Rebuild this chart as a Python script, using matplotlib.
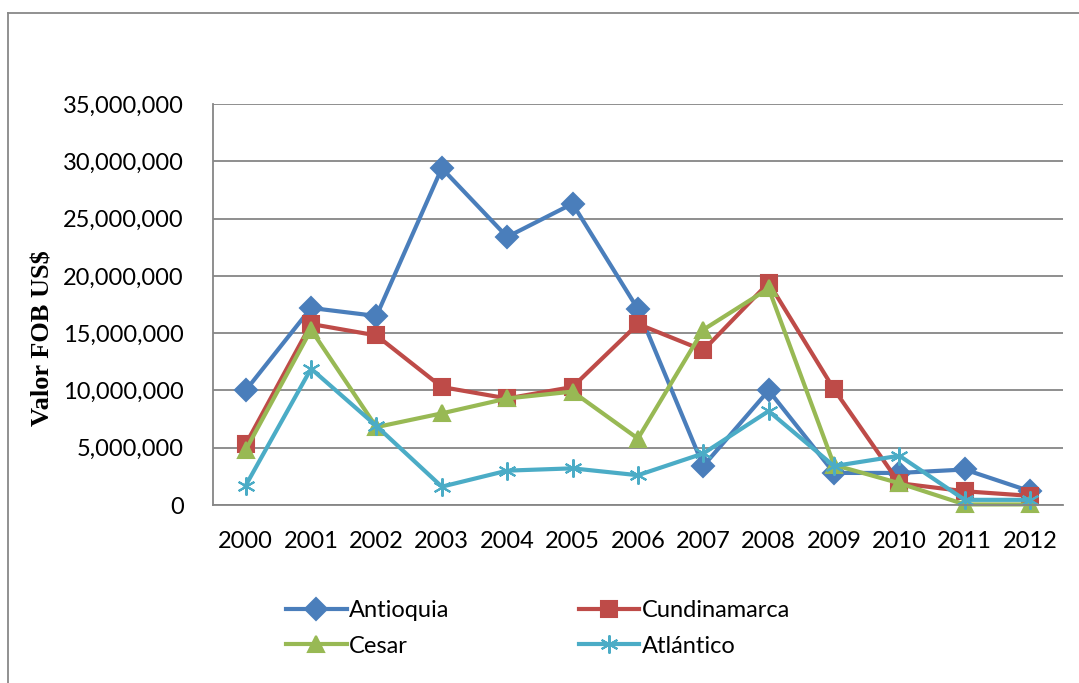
import matplotlib
matplotlib.use('Agg')
import matplotlib.pyplot as plt
from matplotlib.lines import Line2D
from matplotlib.ticker import FuncFormatter

# data (Valor FOB US$)
years = ['2000', '2001', '2002', '2003', '2004', '2005', '2006',
         '2007', '2008', '2009', '2010', '2011', '2012']
antioquia = [10.0e6, 17.2e6, 16.5e6, 29.4e6, 23.4e6, 26.3e6, 17.1e6,
             3.4e6, 10.0e6, 2.8e6, 2.8e6, 3.1e6, 1.2e6]
cundinamarca = [5.3e6, 15.8e6, 14.8e6, 10.3e6, 9.3e6, 10.3e6, 15.8e6,
                13.5e6, 19.4e6, 10.1e6, 1.9e6, 1.2e6, 0.8e6]
cesar = [4.8e6, 15.3e6, 6.8e6, 8.0e6, 9.3e6, 9.9e6, 5.8e6,
         15.3e6, 18.9e6, 3.5e6, 1.9e6, 0.05e6, 0.05e6]
atlantico = [1.7e6, 11.9e6, 6.9e6, 1.6e6, 3.0e6, 3.2e6, 2.6e6,
             4.5e6, 8.2e6, 3.4e6, 4.3e6, 0.45e6, 0.45e6]

series = [
    ('Antioquia', antioquia, '#4A7EBB', 'D', 11),
    ('Cundinamarca', cundinamarca, '#BE4B48', 's', 11),
    ('Cesar', cesar, '#98B954', '^', 12),
    ('Atlántico', atlantico, '#4BACC6', (6, 2, 0), 13),
]

fig = plt.figure(figsize=(10.79, 6.83), dpi=100)
ax = fig.add_axes([0.1974, 0.2606, 0.7876, 0.5871])

x = range(len(years))
handles = []
for name, vals, color, marker, ms in series:
    ln, = ax.plot(x, vals, color=color, linewidth=3, marker=marker,
                  markersize=ms, markerfacecolor=color, markeredgecolor=color,
                  markeredgewidth=1.5, label=name, clip_on=False)
    handles.append(ln)

ax.set_xlim(-0.5, len(years) - 0.5)
ax.set_ylim(0, 35e6)
ax.set_yticks(range(0, 35000001, 5000000))
ax.yaxis.set_major_formatter(FuncFormatter(lambda v, p: f'{int(v):,}'))
ax.set_xticks(list(x))
ax.set_xticklabels(years)

tick_font = 'Lato'
for lab in ax.get_xticklabels() + ax.get_yticklabels():
    lab.set_fontfamily(tick_font)
    lab.set_fontsize(17)
ax.tick_params(axis='x', length=0, pad=19)
ax.tick_params(axis='y', length=0, pad=21)

ax.grid(axis='y', color='#868686', linewidth=1.3)
ax.set_axisbelow(True)
for s in ['top', 'right']:
    ax.spines[s].set_visible(False)
for s in ['left', 'bottom']:
    ax.spines[s].set_color('#868686')
    ax.spines[s].set_linewidth(1.3)

fig.text(0.040, 0.505, 'Valor FOB US$', rotation=90, ha='center', va='center',
         fontfamily='Liberation Serif', fontweight='bold', fontsize=19)

# legend filled column-wise: put entries so rows read Antioquia/Cundinamarca, Cesar/Atlántico
order = [0, 2, 1, 3]
leg = fig.legend(handles=[handles[i] for i in order],
                 labels=[handles[i].get_label() for i in order],
                 ncol=2, loc='upper left', bbox_to_anchor=(0.2654, 0.121),
                 frameon=False, prop={'family': tick_font, 'size': 17},
                 handlelength=2.55, handletextpad=0.1, columnspacing=5.5,
                 labelspacing=0.6, borderaxespad=0, borderpad=0)

# outer chart frame (partially cropped in the reference)
fig.add_artist(Line2D([8 / 1079, 1.0], [1 - 13 / 683, 1 - 13 / 683],
                      transform=fig.transFigure, color='#888888', linewidth=1.3))
fig.add_artist(Line2D([8 / 1079, 8 / 1079], [0.0, 1 - 13 / 683],
                      transform=fig.transFigure, color='#888888', linewidth=1.3))

fig.savefig('out.png', dpi=100, facecolor='white')
